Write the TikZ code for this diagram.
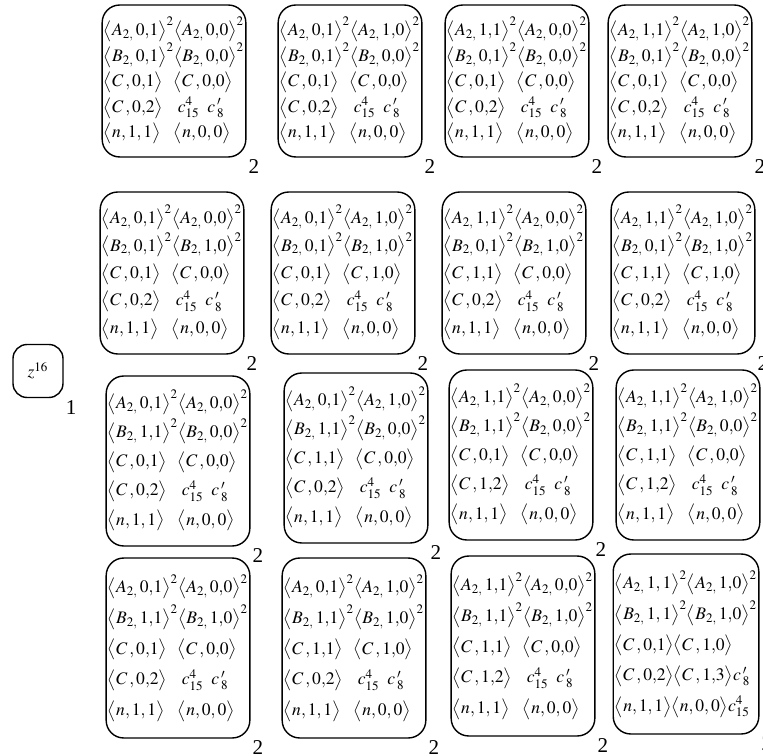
\documentclass[tikz,border=0pt]{standalone}
\usepackage{amsmath}
\usepackage{mathptmx}
\usepackage[no-math]{fontspec}
\setmainfont{Liberation Serif}
\usepackage{tikz}
\usetikzlibrary{calc}

\def\prx#1#2{#1{,}#2}
\newcommand{\pr}[1]{\prx#1}
\newcommand{\la}{\bigl\langle}
\newcommand{\ra}{\bigr\rangle}
\newcommand{\grp}[7]{%
  \begin{tabular}{@{}l@{}l@{}}
  $\la A_{2,}\,\pr{#1}\ra^{2}$ & $\la A_{2,}\,\pr{#2}\ra^{2}$\\
  $\la B_{2,}\,\pr{#3}\ra^{2}$ & $\la B_{2,}\,\pr{#4}\ra^{2}$\\
  $\la C\,,\pr{#5}\ra$ & $\la C\,,\pr{#6}\ra$\\
  $\la C\,,\pr{#7}\ra$ & $\;c^{4}_{15}\;\;c\,'_{8}$\\
  $\la n,1,1\ra$ & $\la n,0,0\ra$
  \end{tabular}}

\tikzset{
  grp/.style={draw, line width=0.8pt, rounded corners=10pt, inner sep=1pt,
    minimum width=2.85cm, label={[sub]south east:2}},
  sub/.style={inner sep=1pt, font=\large},
  rowa/.style={minimum height=3.04cm, execute at begin node={\renewcommand{\arraystretch}{1.2}}},
  rowb/.style={minimum height=3.24cm, execute at begin node={\renewcommand{\arraystretch}{1.3}}},
  rowc/.style={minimum height=3.4cm, execute at begin node={\renewcommand{\arraystretch}{1.38}}},
  rowd/.style={minimum height=3.6cm, execute at begin node={\renewcommand{\arraystretch}{1.45}}}
}

\begin{document}
\begin{tikzpicture}[x=0.02cm, y=-0.02cm]
  \useasboundingbox (0,0) rectangle (763,756);
  \node[draw, line width=0.8pt, rounded corners=8pt, minimum width=1cm, minimum height=1.06cm,
    label={[sub]south east:1}] (z) at (38,371) {$z^{16}$};

  \node[grp, rowa] (b11) at (174,81) {\grp{01}{00}{01}{00}{01}{00}{02}};
  \node[grp, rowa] (b12) at (350,81) {\grp{01}{10}{01}{00}{01}{00}{02}};
  \node[grp, rowa] (b13) at (517,81) {\grp{11}{00}{01}{00}{01}{00}{02}};
  \node[grp, rowa] (b14) at (680,81) {\grp{11}{10}{01}{00}{01}{00}{02}};

  \node[grp, rowb] (b21) at (172,273) {\grp{01}{00}{01}{10}{01}{00}{02}};
  \node[grp, rowb] (b22) at (343,273) {\grp{01}{10}{01}{10}{01}{10}{02}};
  \node[grp, rowb] (b23) at (514,273) {\grp{11}{00}{01}{10}{11}{00}{02}};
  \node[grp, rowb] (b24) at (683,273) {\grp{11}{10}{01}{10}{11}{10}{02}};

  \node[grp, rowc] (b31) at (178,461) {\grp{01}{00}{11}{00}{01}{00}{02}};
  \node[grp, rowc] (b32) at (356,458) {\grp{01}{10}{11}{00}{11}{00}{02}};
  \node[grp, rowc] (b33) at (521,455) {\grp{11}{00}{11}{00}{01}{00}{12}};
  \node[grp, rowc] (b34) at (688,455) {\grp{11}{10}{11}{00}{11}{00}{12}};

  \node[grp, rowd] (b41) at (178,648) {\grp{01}{00}{11}{10}{01}{00}{02}};
  \node[grp, rowd] (b42) at (354,648) {\grp{01}{10}{11}{10}{11}{10}{02}};
  \node[grp, rowd] (b43) at (523,646) {\grp{11}{00}{11}{10}{11}{00}{12}};
  \node[grp, rowd] (b44) at (686,644) {%
    \begin{tabular}{@{}l@{}}
    $\la A_{2,}\,1,1\ra^{2}\la A_{2,}\,1{,}0\ra^{2}$\\
    $\la B_{2,}\,1,1\ra^{2}\la B_{2,}\,1{,}0\ra^{2}$\\
    $\la C\,,0{,}1\ra\la C\,,1{,}0\ra$\\
    $\la C\,,0{,}2\ra\la C\,,1{,}3\ra c\,'_{8}$\\
    $\la n,1,1\ra\la n,0,0\ra c^{4}_{15}$
    \end{tabular}};
\end{tikzpicture}
\end{document}
